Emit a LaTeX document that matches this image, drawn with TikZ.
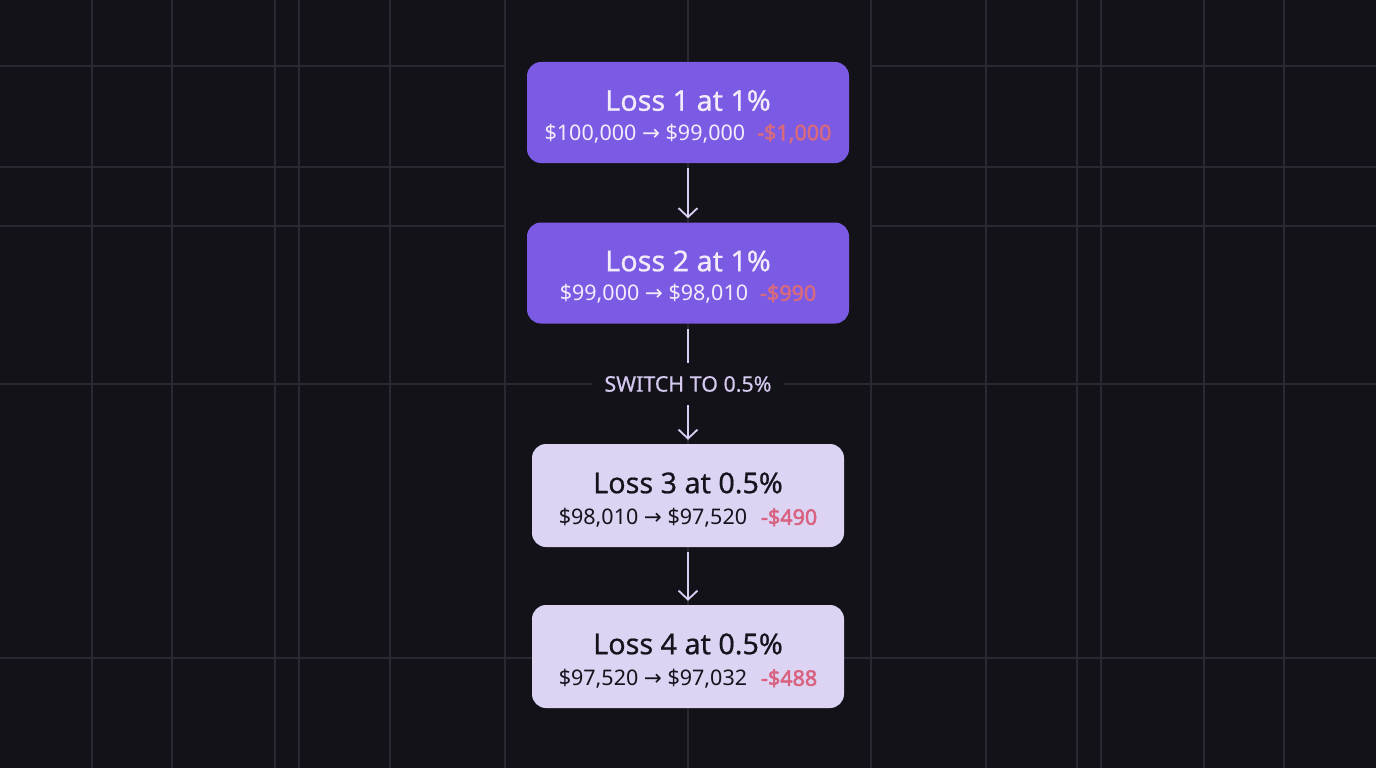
\documentclass[tikz,border=0pt]{standalone}
\usepackage{fontspec}
\setmainfont{Noto Sans}[AutoFakeBold=2.2]
\newfontfamily\symfont{DejaVu Sans}
\newfontfamily\medfont{Noto Sans}[FakeBold=0.6]
\usetikzlibrary{arrows.meta}
\definecolor{bgc}{HTML}{131219}
\definecolor{gridc}{HTML}{2A2833}
\definecolor{purp}{HTML}{7B5BE4}
\definecolor{lav}{HTML}{DDD3F3}
\definecolor{lighttxt}{HTML}{F2ECFA}
\definecolor{darktxt}{HTML}{15131C}
\definecolor{redp}{HTML}{D66A7E}
\definecolor{redl}{HTML}{D8627F}
\definecolor{connc}{HTML}{D9CFF2}
\definecolor{labc}{HTML}{D4C8EE}
\newcommand{\ra}{{\symfont\char"2192}}
\tikzset{
  gridline/.style={draw=gridc, line width=1.3pt},
  darkbox/.style={rectangle, rounded corners=14pt, fill=purp, minimum width=322pt, minimum height=101pt, inner sep=0pt},
  lightbox/.style={rectangle, rounded corners=14pt, fill=lav, minimum width=312pt, minimum height=103pt, inner sep=0pt},
  title/.style={inner sep=0pt, font=\medfont\fontsize{28.7}{33}\selectfont},
  amount/.style={inner sep=0pt, font=\fontsize{21.5}{25}\selectfont},
  conn/.style={draw=connc, line width=1.8pt},
  arr/.style={conn, -{Straight Barb[length=9pt,width=19pt,line width=1.8pt]}},
}
\begin{document}
\begin{tikzpicture}[x=1pt,y=-1pt]
\fill[bgc] (0,0) rectangle (1376,768);
\useasboundingbox (0,0) rectangle (1376,768);
% vertical grid lines
\foreach \xx in {92,172,275,299,390,505,688,871,986,1077,1101,1204,1284}
  \draw[gridline] (\xx,0) -- (\xx,768);
% horizontal grid lines (outside the centre column)
\foreach \yy in {66,167,226} {
  \draw[gridline] (0,\yy) -- (505,\yy);
  \draw[gridline] (871,\yy) -- (1376,\yy);
}
\foreach \yy in {384,658}
  \draw[gridline] (0,\yy) -- (1376,\yy);

% boxes
\node[darkbox] (b1) at (688,112.5) {};
\node[title, text=lighttxt] (t1) at (688,100.5) {Loss 1 at 1\%};
\node[amount, text=lighttxt] (a1) at (688,133.5) {\$100,000 \ra{} \$99,000\hspace{12pt}{\color{redp}\bfseries -\$1,000}};

\node[darkbox] (b2) at (688,273) {};
\node[title, text=lighttxt] (t2) at (688,261) {Loss 2 at 1\%};
\node[amount, text=lighttxt] (a2) at (688,294) {\$99,000 \ra{} \$98,010\hspace{12pt}{\color{redp}\bfseries -\$990}};

\node[font=\medfont\fontsize{21.4}{25}\selectfont, text=labc, fill=bgc, inner xsep=12pt, inner ysep=0pt, minimum height=42pt] (sw) at (688,384) {SWITCH TO 0.5\%};

\node[lightbox] (b3) at (688,495.5) {};
\node[title, text=darktxt] (t3) at (688,483) {Loss 3 at 0.5\%};
\node[amount, text=darktxt] (a3) at (688,518) {\$98,010 \ra{} \$97,520\hspace{14pt}{\color{redl}\bfseries -\$490}};

\node[lightbox] (b4) at (688,656.5) {};
\node[title, text=darktxt] (t4) at (688,644) {Loss 4 at 0.5\%};
\node[amount, text=darktxt] (a4) at (688,679) {\$97,520 \ra{} \$97,032\hspace{14pt}{\color{redl}\bfseries -\$488}};

% connectors
\draw[arr] ([yshift=-5pt]b1.south) -- ([yshift=4pt]b2.north);
\draw[conn] ([yshift=-5pt]b2.south) -- (sw.north);
\draw[arr] (sw.south) -- ([yshift=4pt]b3.north);
\draw[arr] ([yshift=-5pt]b3.south) -- ([yshift=4pt]b4.north);
\end{tikzpicture}
\end{document}
